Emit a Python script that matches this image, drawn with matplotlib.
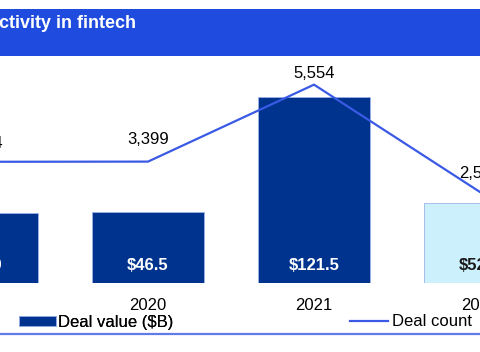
import matplotlib
matplotlib.use("Agg")
import matplotlib.pyplot as plt
from matplotlib.lines import Line2D
from matplotlib.patches import Rectangle

# ---- data ----
years = ["2019", "2020", "2021", "2022"]
deal_value = [45.9, 46.5, 121.5, 52.3]          # $B
deal_count = [3394, 3399, 5554, 2548]
value_labels = ["$45.9", "$46.5", "$121.5", "$52.3"]
count_labels = ["3,394", "3,399", "5,554", "2,548"]
title = "ctivity in fintech"

bar_colors = ["#00338D", "#00338D", "#00338D", "#CCF0FC"]
value_text_colors = ["white", "white", "white", "#1A1A1A"]
count_label_offsets_px = [18, 22, 11, 19]

plt.rcParams["font.family"] = ["Liberation Sans", "DejaVu Sans"]

W, H = 480, 352
fig = plt.figure(figsize=(W / 100, H / 100), dpi=100)
fig.patch.set_facecolor("white")

# title band
fig.add_artist(Rectangle((0, 1 - 56 / H), 1, 47 / H, transform=fig.transFigure,
                         facecolor="#1F4BDE", edgecolor="none"))
fig.text(-1 / W, 1 - 23 / H, title, color="white", fontsize=13, fontweight="bold",
         ha="left", va="center")

# axes
ax = fig.add_axes([0, 69 / H, 1, 227 / H])
ax.set_facecolor("none")
x = list(range(len(years)))
ax.bar(x, deal_value, width=0.67, color=bar_colors, edgecolor="#9DB3E8",
       linewidth=0.6, label="Deal value ($B)", zorder=1)
ax.set_xlim(0.1084, 3.0)
ax.set_ylim(0, 148.3)
ax.axis("off")

ax2 = ax.twinx()
ax2.plot(x, deal_count, color="#3A5AE6", linewidth=1.6, label="Deal count",
         zorder=3, clip_on=False)
ax2.set_ylim(0, 6356)
ax2.set_xlim(0.1084, 3.0)
ax2.axis("off")

pt = 72 / 100
for i in x:
    ax.annotate(value_labels[i], (i, 0), xytext=(0, 17 * pt), textcoords="offset points",
                ha="center", va="center", fontsize=12, fontweight="bold",
                color=value_text_colors[i], annotation_clip=False)
    ax.annotate(years[i], (i, 0), xytext=(0, -22 * pt), textcoords="offset points",
                ha="center", va="center", fontsize=12, color="black",
                annotation_clip=False)
    ax2.annotate(count_labels[i], (i, deal_count[i]),
                 xytext=(0, count_label_offsets_px[i] * pt), textcoords="offset points",
                 ha="center", va="center", fontsize=12, color="black",
                 annotation_clip=False)

# legends
h1, l1 = ax.get_legend_handles_labels()
h2, l2 = ax2.get_legend_handles_labels()
leg1 = fig.legend(h1, l1, loc="center left", bbox_to_anchor=(19 / W, 1 - 322 / H),
                  frameon=False, fontsize=12, handlelength=2.2, handleheight=0.55,
                  handletextpad=0.12, borderpad=0, borderaxespad=0)
leg2 = fig.legend(h2, l2, loc="center left", bbox_to_anchor=(350 / W, 1 - 322 / H),
                  frameon=False, fontsize=12, handlelength=2.3,
                  handletextpad=0.2, borderpad=0, borderaxespad=0)
fig.add_artist(leg1)

# bottom rule
fig.add_artist(Line2D([0, 1], [1 - 333.5 / H] * 2, transform=fig.transFigure,
                      color="#5F7DE6", linewidth=1.6))

fig.savefig("out.png", dpi=100)
